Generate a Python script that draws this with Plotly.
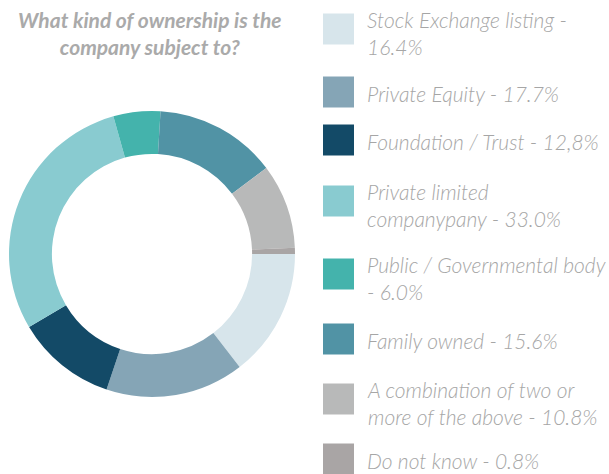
import plotly.graph_objects as go

labels = [
    "Stock Exchange listing -<br>16.4%",
    "Private Equity - 17.7%",
    "Foundation / Trust - 12,8%",
    "Private limited<br>companypany - 33.0%",
    "Public / Governmental body<br>- 6.0%",
    "Family owned - 15.6%",
    "A combination of two or<br>more of the above - 10.8%",
    "Do not know - 0.8%",
]
values = [16.4, 17.7, 12.8, 33.0, 6.0, 15.6, 10.8, 0.8]
colors = ["#d7e5eb", "#85a5b6", "#134a67", "#89cbd0",
          "#44b3ac", "#5193a5", "#b8b9b9", "#a9a5a5"]

W, H = 609, 474
# legend row centres (px from top)
legend_rows = [29, 92, 140, 201, 274, 339, 399, 459]

fig = go.Figure(go.Pie(
    labels=labels,
    values=values,
    marker=dict(colors=colors, line=dict(width=0)),
    hole=0.7,
    sort=False,
    direction="clockwise",
    rotation=90,
    textinfo="none",
    hoverinfo="label",
    domain=dict(x=[9 / W, 295 / W], y=[(H - 397) / H, (H - 111) / H]),
))

shapes = []
annotations = []
for lab, col, yc in zip(labels, colors, legend_rows):
    shapes.append(dict(
        type="rect", xref="paper", yref="paper", line=dict(width=0),
        fillcolor=col,
        x0=323 / W, x1=354 / W, y0=(H - yc - 15.5) / H, y1=(H - yc + 15.5) / H,
    ))
    shift = 4 if "<br>" in lab else 1
    annotations.append(dict(
        text=lab, xref="paper", yref="paper", showarrow=False,
        x=365 / W, y=(H - yc - shift) / H, xanchor="left", yanchor="middle",
        align="left",
        font=dict(family="Lato", size=21, color="#a6a6a6",
                  style="italic", weight=300),
    ))

annotations.append(dict(
    text="What kind of ownership is the<br>company subject to?",
    xref="paper", yref="paper", showarrow=False,
    x=150 / W, y=(H - 33) / H, xanchor="center", yanchor="middle",
    align="center",
    font=dict(family="Lato", size=21, color="#aaaaaa",
              style="italic", weight="bold"),
))

fig.update_layout(
    width=W, height=H,
    margin=dict(l=0, r=0, t=0, b=0),
    showlegend=False,
    paper_bgcolor="white",
    plot_bgcolor="white",
    shapes=shapes,
    annotations=annotations,
)

fig.write_html("out.html", config={"displayModeBar": False},
               post_script="document.body.style.margin='0';")
